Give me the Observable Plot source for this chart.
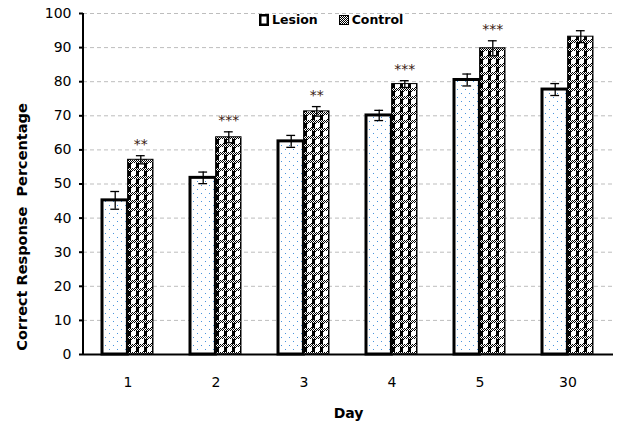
<!DOCTYPE html>
<html>
<head>
<meta charset="utf-8">
<script src="https://cdn.jsdelivr.net/npm/d3@7"></script>
<script src="https://cdn.jsdelivr.net/npm/@observablehq/plot@0.6"></script>
<style>
  html, body { margin: 0; padding: 0; background: #fff; }
  #wrap { position: relative; width: 628px; height: 431px; font-family: "DejaVu Sans", Verdana, sans-serif; }
  #legend { position: absolute; top: 12px; left: 259px; display: flex; align-items: center; font-weight: bold; font-size: 12.5px; color: #000; }
  #legend .item { display: flex; align-items: center; margin-right: 21px; }
  #legend svg { margin-right: 3px; }
</style>
</head>
<body>
<div id="wrap">
  <div id="legend">
    <div class="item">
      <svg width="10" height="12"><rect x="1.25" y="1.25" width="7.5" height="9.5" fill="#fff" stroke="#000" stroke-width="2.5"></rect></svg>
      <span>Lesion</span>
    </div>
    <div class="item">
      <svg width="10" height="12"><rect x="0.5" y="1.5" width="9" height="9" fill="url(#checkerLegend)" stroke="#000" stroke-width="1"></rect>
        <defs>
          <pattern id="checkerLegend" width="2" height="2" patternUnits="userSpaceOnUse">
            <rect width="2" height="2" fill="#fff"></rect>
            <rect width="1" height="1" fill="#000"></rect>
            <rect x="1" y="1" width="1" height="1" fill="#000"></rect>
          </pattern>
        </defs>
      </svg>
      <span>Control</span>
    </div>
  </div>
</div>
<script>
const days = ["1", "2", "3", "4", "5", "30"];
const lesion = [45.2, 51.8, 62.5, 70.1, 80.5, 77.7];
const lesionErr = [2.6, 1.7, 1.75, 1.5, 1.75, 1.75];
const control = [57.1, 63.7, 71.3, 79.3, 89.8, 93.2];
const controlErr = [1.2, 1.6, 1.4, 1.0, 2.2, 1.75];
const stars = ["**", "***", "**", "***", "***", ""];
const yTicks = [0, 10, 20, 30, 40, 50, 60, 70, 80, 90, 100];
const gridTicks = [10, 20, 30, 40, 50, 60, 70, 80, 90, 100];
const yTitle = "Correct Response  Percentage";
const xTitle = "Day";

const lesionData = days.map((d, i) => ({day: d, value: lesion[i], err: lesionErr[i]}));
const controlData = days.map((d, i) => ({day: d, value: control[i], err: controlErr[i], stars: stars[i]}));

const half = 25.6;   // half of band width
const capL = 8.3, capR = 33.9;

const plot = Plot.plot({
  width: 628,
  height: 431,
  marginLeft: 83,
  marginRight: 15,
  marginTop: 13,
  marginBottom: 77,
  style: {fontFamily: "DejaVu Sans, Verdana, sans-serif", fontSize: "14px", color: "#000", background: "#fff"},
  x: {domain: days, paddingInner: 0.42, paddingOuter: 0.21, tickSize: 0, tickPadding: 23, label: null},
  y: {domain: [0, 100], ticks: yTicks, tickSize: 4, tickPadding: 8, label: null},
  marks: [
    Plot.ruleY(gridTicks, {stroke: "#bdbdbd", strokeDasharray: "4,3", strokeWidth: 1}),
    Plot.barY(lesionData, {x: "day", y: "value", insetRight: half, fill: "url(#dots)", stroke: "#000", strokeWidth: 3}),
    Plot.barY(controlData, {x: "day", y: "value", insetLeft: half, fill: "url(#checker)", stroke: "#000", strokeWidth: 1}),
    Plot.ruleX(lesionData, {x: "day", y1: d => d.value - d.err, y2: d => d.value + d.err, dx: -half / 2, stroke: "#000", strokeWidth: 1.3}),
    Plot.tickY(lesionData, {x: "day", y: d => d.value - d.err, insetLeft: capL, insetRight: capR, stroke: "#000", strokeWidth: 1.3}),
    Plot.tickY(lesionData, {x: "day", y: d => d.value + d.err, insetLeft: capL, insetRight: capR, stroke: "#000", strokeWidth: 1.3}),
    Plot.ruleX(controlData, {x: "day", y1: d => d.value - d.err, y2: d => d.value + d.err, dx: half / 2, stroke: "#000", strokeWidth: 1.3}),
    Plot.tickY(controlData, {x: "day", y: d => d.value - d.err, insetLeft: capR, insetRight: capL, stroke: "#000", strokeWidth: 1.3}),
    Plot.tickY(controlData, {x: "day", y: d => d.value + d.err, insetLeft: capR, insetRight: capL, stroke: "#000", strokeWidth: 1.3}),
    Plot.text(controlData, {x: "day", y: d => d.value + d.err, text: "stars", dx: half / 2, dy: -7, lineAnchor: "bottom", fontSize: 14, fill: "#3a1a10"}),
    Plot.ruleY([0], {stroke: "#000", strokeWidth: 2}),
    Plot.text([yTitle], {frameAnchor: "left", textAnchor: "middle", dx: -61, dy: 43, rotate: -90, fontWeight: "bold", fontSize: 14.5}),
    Plot.text([xTitle], {frameAnchor: "bottom", textAnchor: "middle", dy: 63, fontWeight: "bold", fontSize: 14})
  ]
});

// patterns
const defs = d3.create("svg:defs");
const dots = defs.append("pattern").attr("id", "dots").attr("width", 8).attr("height", 8).attr("patternUnits", "userSpaceOnUse");
dots.append("rect").attr("width", 8).attr("height", 8).attr("fill", "#fff");
dots.append("rect").attr("x", 1).attr("y", 1).attr("width", 1).attr("height", 1).attr("fill", "#4a94dc");
dots.append("rect").attr("x", 5).attr("y", 5).attr("width", 1).attr("height", 1).attr("fill", "#4a94dc");
const chk = defs.append("pattern").attr("id", "checker").attr("width", 8).attr("height", 8).attr("patternUnits", "userSpaceOnUse");
chk.append("rect").attr("width", 8).attr("height", 8).attr("fill", "#fff");
for (let y = 0; y < 3; y++) for (let x = 0; x < 8; x++) if ((x + y) % 2 === 0) chk.append("rect").attr("x", x).attr("y", y).attr("width", 1).attr("height", 1).attr("fill", "#000");
chk.append("rect").attr("x", 0).attr("y", 3).attr("width", 3).attr("height", 5).attr("fill", "#000");
chk.append("rect").attr("x", 3).attr("y", 3).attr("width", 1).attr("height", 1).attr("fill", "#000");
chk.append("rect").attr("x", 7).attr("y", 7).attr("width", 1).attr("height", 1).attr("fill", "#000");
plot.insertBefore(defs.node(), plot.firstChild);

// y axis line drawn through the plot's own scales
const xr = plot.scale("x").range, yr = plot.scale("y").range;
d3.select(plot).append("line")
  .attr("x1", xr[0]).attr("x2", xr[0]).attr("y1", yr[0] + 1).attr("y2", yr[1])
  .attr("stroke", "#000").attr("stroke-width", 2);
d3.select(plot).selectAll('g[aria-label="y-axis tick"] path, g[aria-label="y-axis"] line').attr("stroke-width", 2);

document.getElementById("wrap").appendChild(plot);
</script>
</body>
</html>
